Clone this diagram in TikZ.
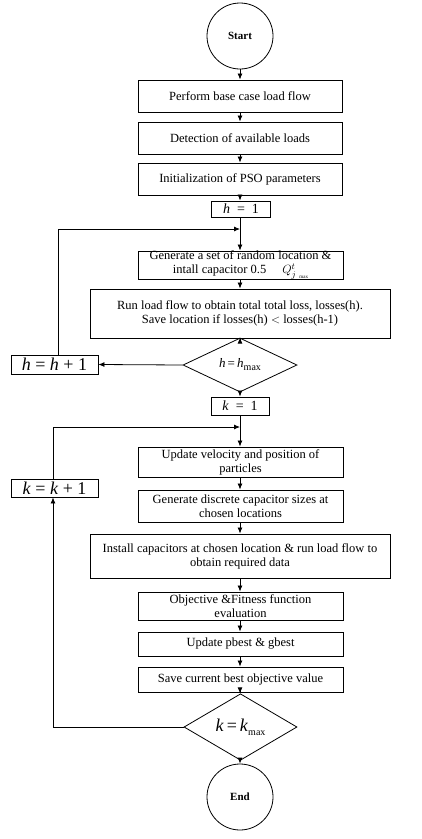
\documentclass[tikz,border=0pt]{standalone}
\usepackage{fontspec}
\setmainfont{Liberation Serif}
\usetikzlibrary{arrows.meta,shapes.geometric}
\begin{document}
\begin{tikzpicture}[x=1pt,y=-1pt,
  box/.style={draw, line width=0.9pt, rectangle, align=center, inner sep=0pt,
    font=\fontsize{12.5}{14}\selectfont},
  mbox/.style={draw, line width=0.9pt, rectangle, inner sep=0pt},
  circ/.style={draw, line width=0.8pt, circle, minimum size=66pt, inner sep=0pt,
    font=\fontsize{11}{13}\selectfont\bfseries},
  dia/.style={draw, line width=0.8pt, diamond, inner sep=0pt},
  arr/.style={-{Latex[length=6pt,width=5pt]}, line width=0.8pt},
  ln/.style={line width=0.8pt}]
\useasboundingbox (0,0) rectangle (421,839);

\node[circ] (start) at (240,36) {Start};
\node[box, minimum width=204pt, minimum height=32pt] (b1) at (240,96) {Perform base case load flow};
\node[box, minimum width=204pt, minimum height=32pt] (b2) at (240,138) {Detection of available loads};
\node[box, minimum width=204pt, minimum height=32pt] (b3) at (240,179) {Initialization of PSO parameters};
\node[mbox, minimum width=59pt, minimum height=16pt, font=\fontsize{14}{16}\selectfont] (h1) at (241,209) {\textit{h}\ \ =\ \ 1};
\node[box, minimum width=205pt, minimum height=28pt] (gen) at (240.5,265)
  {Generate a set of random location \&\\ intall capacitor 0.5\hspace{16pt}$Q^{t}_{j}$\hspace{3pt}\raisebox{-5pt}{\fontsize{5}{6}\selectfont max}};
\node[box, minimum width=300pt, minimum height=49pt] (run) at (240,313.5)
  {Run load flow to obtain total total loss, losses(h).\\ Save location if losses(h) $<$ losses(h-1)};
\node[dia, minimum width=114pt, minimum height=35pt, font=\fontsize{13}{15}\selectfont] (d1) at (240,365)
  {\textit{h}\,=\,\textit{h}\raisebox{-3pt}{\fontsize{10}{12}\selectfont max}};
\node[mbox, minimum width=87pt, minimum height=19pt, font=\fontsize{18}{20}\selectfont] (hh) at (54.5,364.5)
  {\textit{h} = \textit{h} + 1};
\node[mbox, minimum width=58pt, minimum height=18pt, font=\fontsize{14}{16}\selectfont] (k1) at (240,406) {\textit{k}\ \ =\ \ 1};
\node[box, minimum width=205pt, minimum height=30pt] (upd) at (240.5,462) {Update velocity and position of\\ particles};
\node[box, minimum width=205pt, minimum height=32pt] (gds) at (240.5,506) {Generate discrete capacitor sizes at\\ chosen locations};
\node[box, minimum width=300pt, minimum height=44pt] (inst) at (240,556) {Install capacitors at chosen location \& run load flow to\\ obtain required data};
\node[box, minimum width=205pt, minimum height=28pt] (obj) at (240.5,606) {Objective \&Fitness function\\ evaluation};
\node[box, minimum width=205pt, minimum height=24pt] (pb) at (240.5,644) {Update pbest \& gbest};
\node[box, minimum width=205pt, minimum height=25pt] (sv) at (240.5,679.5) {Save current best objective value};
\node[dia, minimum width=113pt, minimum height=49pt, font=\fontsize{18}{20}\selectfont] (d2) at (240.5,727)
  {\textit{k}\,=\,\textit{k}\raisebox{-4pt}{\fontsize{10}{12}\selectfont max}};
\node[mbox, minimum width=87pt, minimum height=18pt, font=\fontsize{18}{20}\selectfont] (kk) at (54.5,488)
  {\textit{k} = \textit{k} + 1};
\node[circ] (end) at (240,797) {End};

\coordinate (j1) at (240,229);
\coordinate (j2) at (240,427);

\draw[arr] (start) -- (b1);
\draw[arr] (b1) -- (b2);
\draw[arr] (b2) -- (b3);
\draw[arr] (b3.south -| j1) -- (h1.north -| j1);
\draw[arr] (h1.south -| j1) -- (gen.north -| j1);
\draw[arr] ([xshift=3.5pt]hh.north) |- (j1);
\draw[arr] (gen.south -| j1) -- (run.north -| j1);
\draw[arr] (run.south -| j1) -- (d1.north -| j1);
\draw[arr] (d1.west) -- (hh.east);
\draw[arr] (d1.south -| j2) -- (k1.north -| j2);
\draw[arr] (k1.south -| j2) -- (upd.north -| j2);
\draw[arr] ([xshift=-1.5pt]kk.north) |- (j2);
\draw[arr] (upd.south -| j2) -- (gds.north -| j2);
\draw[arr] (gds.south -| j2) -- (inst.north -| j2);
\draw[arr] (inst.south -| j2) -- (obj.north -| j2);
\draw[arr] (obj.south -| j2) -- (pb.north -| j2);
\draw[arr] (pb.south -| j2) -- (sv.north -| j2);
\draw[arr] (sv.south -| j2) -- (d2.north -| j2);
\draw[arr] (d2.south -| j2) -- (end.north -| j2);
\draw[arr] (d2.west) -| ([xshift=-1.5pt]kk.south);
\end{tikzpicture}
\end{document}
